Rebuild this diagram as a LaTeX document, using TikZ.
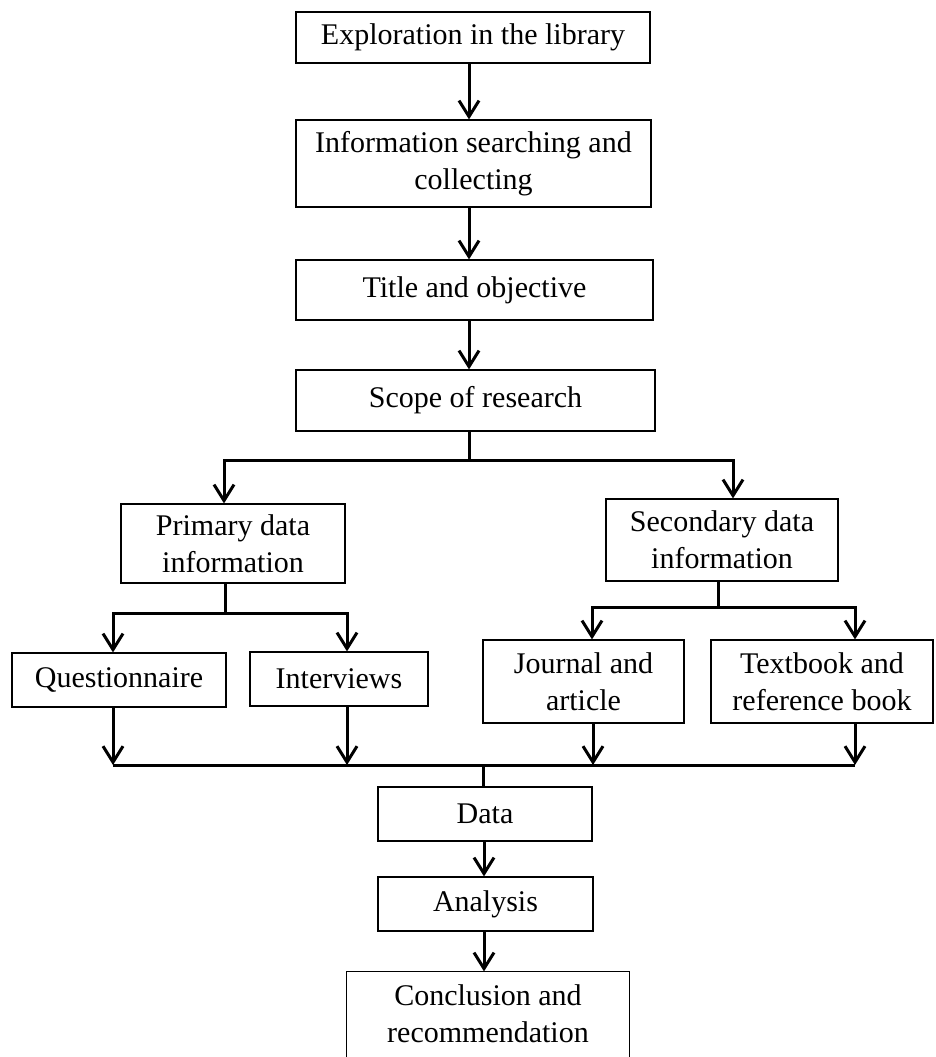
\documentclass[tikz,border=0pt]{standalone}
\usepackage{fontspec}
\setmainfont{Liberation Serif}
\usetikzlibrary{arrows.meta}
\begin{document}
\begin{tikzpicture}[x=1pt,y=-1pt,
 box/.style={draw, line width=1.2pt, align=center, inner sep=0pt, font=\fontsize{30}{37}\selectfont},
 conn/.style={line width=3pt},
 arr/.style={conn, -{Straight Barb[length=16pt,width=20pt,line width=3pt]}},
]
\useasboundingbox (0,0) rectangle (936,1057);
% top chain
\node[box, minimum width=354pt, minimum height=51pt] (b1) at (473,37.5) {Exploration in the library};
\node[box, minimum width=355pt, minimum height=87pt] (b2) at (473.5,163.5) {Information searching and\\collecting};
\node[box, minimum width=357pt, minimum height=60pt] (b3) at (474.5,290) {Title and objective};
\node[box, minimum width=359pt, minimum height=61pt] (b4) at (475.5,400.5) {Scope of research};
% second level
\node[box, minimum width=224pt, minimum height=79pt] (prim) at (233,543.5) {Primary data\\information};
\node[box, minimum width=232pt, minimum height=82pt] (sec) at (722,540) {Secondary data\\information};
% third level
\node[box, minimum width=214pt, minimum height=54pt] (q) at (119,680) {Questionnaire};
\node[box, minimum width=178pt, minimum height=54pt] (iv) at (339,679) {Interviews};
\node[box, minimum width=201pt, minimum height=83pt] (jn) at (583.5,681.5) {Journal and\\article};
\node[box, minimum width=222pt, minimum height=83pt] (tb) at (822,681.5) {Textbook and\\reference book};
% bottom chain
\node[box, minimum width=214pt, minimum height=54pt] (data) at (485,814) {Data};
\node[box, minimum width=215pt, minimum height=54pt] (ana) at (485.5,904) {Analysis};
\node[box, draw=none, minimum width=282pt, minimum height=84pt] (conc) at (488,1014) {Conclusion and\\recommendation};
\draw[line width=1.2pt] (conc.north west) rectangle ([yshift=-40pt]conc.south east);
% coordinates
\coordinate (ax) at (469,0);
\coordinate (brC) at (469,460);
\coordinate (brL) at (224,460);
\coordinate (brR) at (733,460);
\coordinate (pc) at (225,613);
\coordinate (qx) at (113,0);
\coordinate (ix) at (347,0);
\coordinate (sc) at (718,607);
\coordinate (jx) at (592,0);
\coordinate (tx) at (855,0);
\coordinate (colL) at (113,765);
\coordinate (colR) at (855,765);
\coordinate (colC) at (483,765);
\coordinate (qb) at (113,0);
\coordinate (ib) at (347,0);
\coordinate (jb) at (593,0);
\coordinate (tbx) at (855,0);
\coordinate (bx) at (484,0);
% connectors top
\draw[arr] (b1.south -| ax) -- (b2.north -| ax);
\draw[arr] (b2.south -| ax) -- (b3.north -| ax);
\draw[arr] (b3.south -| ax) -- (b4.north -| ax);
\draw[conn] (b4.south -| ax) -- (brC);
\draw[arr] (brC) -| (prim.north -| brL);
\draw[arr] (brC) -| (sec.north -| brR);
% primary branch
\draw[conn] (prim.south -| pc) -- (pc);
\draw[arr] (pc) -| (q.north -| qx);
\draw[arr] (pc) -| (iv.north -| ix);
% secondary branch
\draw[conn] (sec.south -| sc) -- (sc);
\draw[arr] (sc) -| (jn.north -| jx);
\draw[arr] (sc) -| (tb.north -| tx);
% collecting
\draw[arr] (q.south -| qb) -- (colL);
\draw[arr] (iv.south -| ib) -- (ib |- colL);
\draw[arr] (jn.south -| jb) -- (jb |- colL);
\draw[arr] (tb.south -| tbx) -- (colR);
\draw[conn] (colL) -- (colR);
\draw[conn] (colC) -- (data.north -| colC);
% bottom chain
\draw[arr] (data.south -| bx) -- (ana.north -| bx);
\draw[arr] (ana.south -| bx) -- (conc.north -| bx);
\end{tikzpicture}
\end{document}
